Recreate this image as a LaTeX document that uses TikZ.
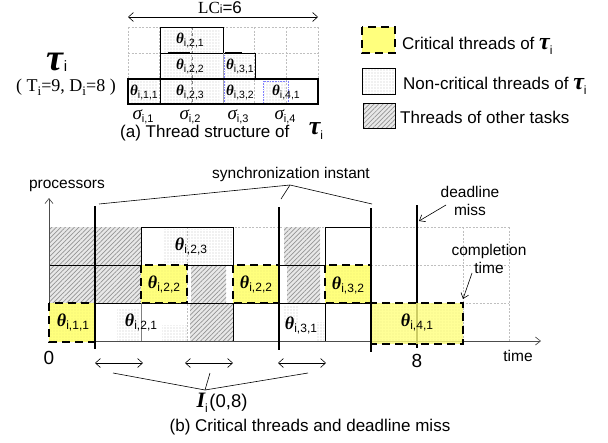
\documentclass[tikz,border=0pt]{standalone}
\usepackage{fontspec}
\setmainfont{Liberation Sans}
\newfontfamily\ser{Liberation Serif}
\usetikzlibrary{patterns.meta,arrows.meta}
\definecolor{critY}{RGB}{255,255,125}
\newcommand{\fs}[1]{\fontsize{#1}{#1}\selectfont}
\newcommand{\thl}[3]{{\fs{#1}\ser\bfseries\itshape θ}\raisebox{-0.3em}{\fs{#2}#3}}
\newcommand{\sig}[1]{{\fs{19}\ser\itshape σ}\raisebox{-0.3em}{\fs{11}#1}}
\newcommand{\tauw}[3]{{\fs{#1}\ser\bfseries\itshape τ}\raisebox{-#3}{\fs{#2}i}}
\begin{document}
\begin{tikzpicture}[x=1pt,y=-1pt,
  gridl/.style={gray!50, line width=0.6pt, dash pattern=on 2pt off 1.5pt},
  hatchf/.style={preaction={fill=gray!18}, pattern={Lines[angle=45,distance=3.2pt,line width=0.7pt]}, pattern color=gray!85},
  dotf/.style={pattern={Dots[distance=3pt,radius=0.45pt]}, pattern color=black!65},
  critf/.style={preaction={fill=critY}, pattern={Dots[distance=3pt,radius=0.35pt]}, pattern color=olive!40},
  critd/.style={draw=black, line width=2.6pt, dash pattern=on 8pt off 5pt},
  sync/.style={line width=2.6pt},
  lbl/.style={inner sep=0pt, font=\fontsize{15.5}{18}\selectfont, align=center},
  ann/.style={line width=0.6pt},
  barb/.style={{Straight Barb[length=5pt,width=9pt]}-{Straight Barb[length=5pt,width=9pt]}},
  tip/.style={-{Straight Barb[length=5pt,width=8pt]}},
]
\useasboundingbox (0,0) rectangle (608,442);

% ---------------- (a) thread structure
\node[inner sep=0pt, font=\fs{17}] (lc) at (220,8) {{\ser LC}{\fs{12}i}=6};
\coordinate (lcL) at (128,17); \coordinate (lcR) at (318,17);
\draw[ann, barb] (lcL) -- (lcR);

\foreach \x in {128,159.67,191.33,223,254.67,286.33,318} \draw[gridl] (\x,27) -- (\x,104);
\foreach \y in {27,53,79} \draw[gridl] (128,\y) -- (318,\y);

\fill[dotf] (130,81) rectangle (158,103);
\fill[dotf] (163,29) rectangle (219,52);
\fill[dotf] (163,55) rectangle (219,78);
\fill[dotf] (163,81) rectangle (219,103);
\fill[dotf] (225,55) rectangle (251,78);
\fill[dotf] (225,81) rectangle (251,103);
\fill[dotf] (264,81) rectangle (287,103);
\draw[gray, dashed, line width=0.6pt] (192,27) -- (192,104);
\draw[blue!50, densely dotted, line width=0.6pt] (224,55) -- (224,103);
\draw[blue!50, densely dotted, line width=0.6pt] (263,81) rectangle (288,103);

\draw[line width=0.8pt] (160,27) rectangle (223,53);
\draw[line width=0.8pt] (160,53) -- (255,53) -- (255,79);
\draw[line width=0.8pt] (160,53) -- (160,104);
\draw[gray!70, line width=0.6pt] (223,53) -- (223,104);
\draw[line width=1.3pt] (128,79) rectangle (318,104);
\draw[line width=2pt] (168,53) -- (190,53) (168,79) -- (190,79) (225,53) -- (242,53)
   (263,79) -- (287,79) (263,104) -- (287,104);

\node[inner sep=0pt] (a211) at (190,40) {\thl{15}{10.5}{i,2,1}};
\node[inner sep=0pt] (a222) at (190,66) {\thl{15}{10.5}{i,2,2}};
\node[inner sep=0pt] (a223) at (190,92) {\thl{15}{10.5}{i,2,3}};
\node[inner sep=0pt] (a111) at (144,92) {\thl{15}{10.5}{i,1,1}};
\node[inner sep=0pt] (a331) at (240,66) {\thl{15}{10.5}{i,3,1}};
\node[inner sep=0pt] (a332) at (240,92) {\thl{15}{10.5}{i,3,2}};
\node[inner sep=0pt] (a441) at (286,92) {\thl{15}{10.5}{i,4,1}};

\node[inner sep=0pt] (s1) at (143,117) {\sig{i,1}};
\node[inner sep=0pt] (s2) at (190,117) {\sig{i,2}};
\node[inner sep=0pt] (s3) at (238,117) {\sig{i,3}};
\node[inner sep=0pt] (s4) at (285,117) {\sig{i,4}};

\node[anchor=west, inner sep=0pt, font=\fs{17}] (capa) at (120,133) {(a) Thread structure of};
\node[inner sep=0pt] (capat) at (316,131) {\tauw{26}{12}{5pt}};

\node[anchor=base, inner sep=0pt] (tau) at (57,70) {\tauw{38}{15}{1pt}};
\node[anchor=base, inner sep=0pt, font=\ser\fs{18}] (td) at (66,91) {( T\raisebox{-4pt}{\fs{13}i}=9, D\raisebox{-4pt}{\fs{13}i}=8 )};

% ---------------- legend
\draw[critd, preaction={fill=critY}] (362,27) rectangle (395,53);
\node[anchor=base west, inner sep=0pt, font=\fs{17}] (lg1) at (402,49) {Critical threads of \tauw{24}{12}{5pt}};
\draw[dotf, draw=black, line width=0.6pt] (362,68) rectangle (395,94);
\node[anchor=base west, inner sep=0pt, font=\fs{17}] (lg2) at (403,89) {Non-critical threads of \tauw{24}{12}{5pt}};
\draw[hatchf, draw=black, line width=0.6pt] (363,103) rectangle (395,128);
\node[anchor=base west, inner sep=0pt, font=\fs{17}] (lg3) at (400,123) {Threads of other tasks};

% ---------------- (b) chart
\foreach \x in {49,95,...,509} \draw[gridl] (\x,227) -- (\x,341);
\foreach \y in {227,265,303} \draw[gridl] (49,\y) -- (509,\y);

\fill[hatchf] (49,227) rectangle (141,303);
\fill[hatchf] (191,265) rectangle (226,303);
\fill[hatchf] (190,304) rectangle (233,341);
\fill[hatchf] (287,265) rectangle (320,303);
\fill[hatchf] (284,227) rectangle (320,265);

\fill[dotf] (163,229) rectangle (233,265);
\fill[dotf] (117,308) rectangle (140,341);
\fill[dotf] (162,325) rectangle (187,341);
\fill[dotf] (284,305) rectangle (299,322);
\fill[dotf] (316,322) rectangle (324,341);

\draw[line width=0.7pt] (49,265) -- (371,265);
\draw[line width=0.7pt] (49,303) -- (371,303);
\draw[line width=0.7pt] (141,227) -- (233,227);
\draw[line width=0.7pt] (325,227) -- (371,227);
\draw[line width=0.7pt] (141,227) -- (141,303);
\draw[gray, line width=0.6pt] (141,303) -- (141,341);
\draw[line width=0.7pt] (233,227) -- (233,341);
\draw[line width=0.7pt] (325,227) -- (325,341);
\draw[line width=0.7pt] (371,227) -- (371,303);

% axes
\coordinate (o) at (49,341); \coordinate (py) at (49,198); \coordinate (tx) at (541,341);
\draw[black!70, line width=0.7pt, tip] (o) -- (py);
\draw[black!70, line width=0.7pt, tip] (o) -- (tx);

% deadline line (below the last box)
\coordinate (dlt) at (417,205); \coordinate (dlbt) at (417,348);
\draw[sync] (dlt) -- (dlbt);

% critical threads
\draw[critf, critd] (49,303) rectangle (95,342);
\draw[critf, critd] (141,265) rectangle (187,303);
\draw[critf, critd] (233,265) rectangle (279,303);
\draw[critf, critd] (325,265) rectangle (371,303);
\draw[preaction={fill=critY, fill opacity=0.8}, pattern={Dots[distance=3pt,radius=0.35pt]}, pattern color=olive!40, critd] (371,303) rectangle (463,344);

% synchronization lines
\coordinate (s1t) at (95,206); \coordinate (s1b) at (95,349);
\coordinate (s5t) at (279,207); \coordinate (s5b) at (279,350);
\coordinate (s7t) at (371,208); \coordinate (s7b) at (371,352);
\draw[sync] (s1t) -- (s1b);
\draw[sync] (s5t) -- (s5b);
\draw[sync] (s7t) -- (s7b);

% thread labels
\node[inner sep=0pt] (b111) at (73,322) {\thl{18}{12}{i,1,1}};
\node[inner sep=0pt] (b221) at (141,322) {\thl{18}{12}{i,2,1}};
\node[inner sep=0pt] (b223) at (191,246) {\thl{18}{12}{i,2,3}};
\node[inner sep=0pt] (b222) at (164,284) {\thl{18}{12}{i,2,2}};
\node[inner sep=0pt] (b222b) at (256,284) {\thl{18}{12}{i,2,2}};
\node[inner sep=0pt] (b332) at (348,285) {\thl{18}{12}{i,3,2}};
\node[inner sep=0pt] (b331) at (301,325) {\thl{18}{12}{i,3,1}};
\node[inner sep=0pt] (b441) at (417,322) {\thl{18}{12}{i,4,1}};

% annotations
\node[lbl] (proc) at (67,186) {processors};
\node[lbl] (time) at (518,356) {time};
\node[inner sep=0pt, font=\fs{19}] (zero) at (49,358) {0};
\node[inner sep=0pt, font=\fs{19}] (eight) at (417,361) {8};

\node[lbl] (syn) at (291,174) {synchronization instant};
\coordinate (sj) at (290,185);
\coordinate (sa1) at (99,204); \coordinate (sa2) at (281,199); \coordinate (sa3) at (372,204);
\draw[ann] (sa1) -- (sj) -- (sa3);
\draw[ann] (sa2) -- (sj);

\node[lbl] (dl) at (470,201) {deadline\\miss};
\coordinate (dla) at (446,205); \coordinate (dlb) at (419,221);
\draw[ann, tip] (dla) -- (dlb);

\node[lbl] (ct) at (489,259) {completion\\time};
\coordinate (cta) at (472,273); \coordinate (ctb) at (463,299);
\draw[ann, tip] (cta) -- (ctb);

% interference intervals
\coordinate (i1l) at (95,363); \coordinate (i1r) at (143,363);
\coordinate (i2l) at (185,363); \coordinate (i2r) at (233,363);
\coordinate (i3l) at (278,363); \coordinate (i3r) at (326,363);
\draw[ann, barb] (i1l) -- (i1r);
\draw[ann, barb] (i2l) -- (i2r);
\draw[ann, barb] (i3l) -- (i3r);
\node[inner sep=0pt] (Ilab) at (222,403) {{\ser\bfseries\itshape\fs{22}I}\raisebox{-5pt}{\fs{12}i}\,{\fs{18.5}(0,8)}};
\coordinate (ij) at (205,390);
\coordinate (ia1) at (113,373); \coordinate (ia2) at (210,373); \coordinate (ia3) at (308,373);
\draw[ann] (ia1) -- (ij) -- (ia3);
\draw[ann] (ia2) -- (ij);

\node[inner sep=0pt, font=\fs{17}] (capb) at (310,427) {(b) Critical threads and deadline miss};
\end{tikzpicture}
\end{document}
